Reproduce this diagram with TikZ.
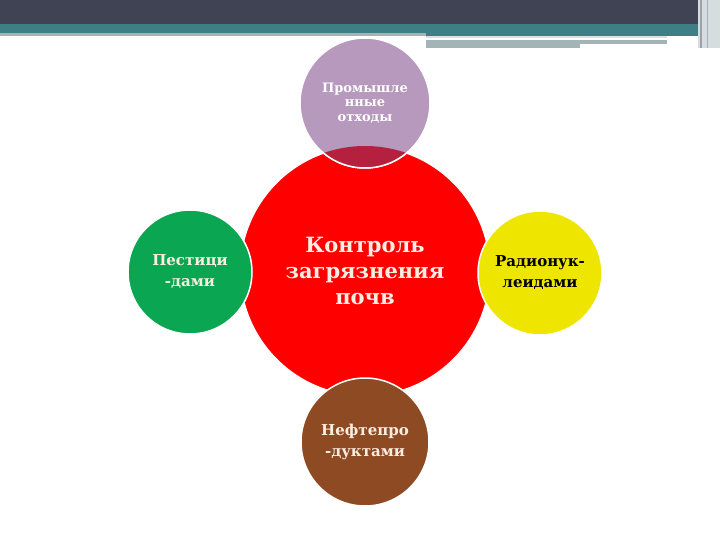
\documentclass[tikz,border=0pt]{standalone}
\usepackage{fontspec}
\setmainfont{DejaVu Serif}
\usepackage{tikz}

\definecolor{headdark}{HTML}{3F4354}
\definecolor{headteal}{HTML}{3E7F86}
\definecolor{headgray}{HTML}{A3B4B6}
\definecolor{soilred}{HTML}{FF0000}
\definecolor{wastelilac}{HTML}{B899BE}
\definecolor{overlapred}{HTML}{B4203E}
\definecolor{pestgreen}{HTML}{0BA651}
\definecolor{radyellow}{HTML}{EEE600}
\definecolor{oilbrown}{HTML}{8D4A23}
\definecolor{creamtext}{HTML}{FBEDE2}

\tikzset{
	bubble/.style={circle, draw=white, line width=1.5pt, inner sep=0pt, outer sep=0pt, align=center},
	smalltext/.style={font=\fontsize{15}{21}\selectfont\bfseries}
}

\begin{document}
\begin{tikzpicture}[x=1pt, y=-1pt]
			%%%%% START %%%%%
			\useasboundingbox (0, 0) rectangle (720, 540);
			
			% header bars
			\fill[headdark] (0, 0) rectangle (698, 24);
			\fill[headteal] (0, 24) rectangle (698, 33);
			\fill[headgray] (0, 33) rectangle (426, 36);
			\fill[headteal] (426, 33) rectangle (698, 36);
			\fill[headgray!40] (426, 36) rectangle (667, 38);
			\fill[headgray] (426, 40) rectangle (667, 44);
			\fill[headgray] (426, 44) rectangle (580, 48);
			\fill[headgray!45] (698, 0) rectangle (720, 48);
			\draw[line width=1.5pt, color=headdark!50] (701, 0) -- (701, 48);
			\draw[line width=1pt, color=headgray] (707, 0) -- (707, 48);
			
			% main circle and the outer ones
			\node[bubble, fill=soilred, minimum size=250, text=creamtext,
				font=\fontsize{21}{26}\selectfont\bfseries] (kontrol) at (365, 271)
				{Контроль\\загрязнения\\почв};
			\node[bubble, fill=wastelilac, minimum size=130, text=white,
				font=\fontsize{13}{14.5}\selectfont\bfseries] (othody) at (365, 103)
				{Промышле\\нные\\отходы};
			\begin{scope}
				\clip (kontrol.center) circle (125);
				\fill[overlapred, draw=white, line width=1.5pt] (othody.center) circle (65);
			\end{scope}
			
			\node[bubble, smalltext, fill=pestgreen, minimum size=124, text=creamtext] (pestic) at (190, 272)
				{Пестици\\-дами};
			\node[bubble, smalltext, fill=radyellow, minimum size=124, text=black] (radio) at (540, 273)
				{Радионук-\\леидами};
			\node[bubble, smalltext, fill=oilbrown, minimum size=128, text=creamtext] (neft) at (365, 442)
				{Нефтепро\\-дуктами};
			
			%%%%% END %%%%%
\end{tikzpicture}
\end{document}
